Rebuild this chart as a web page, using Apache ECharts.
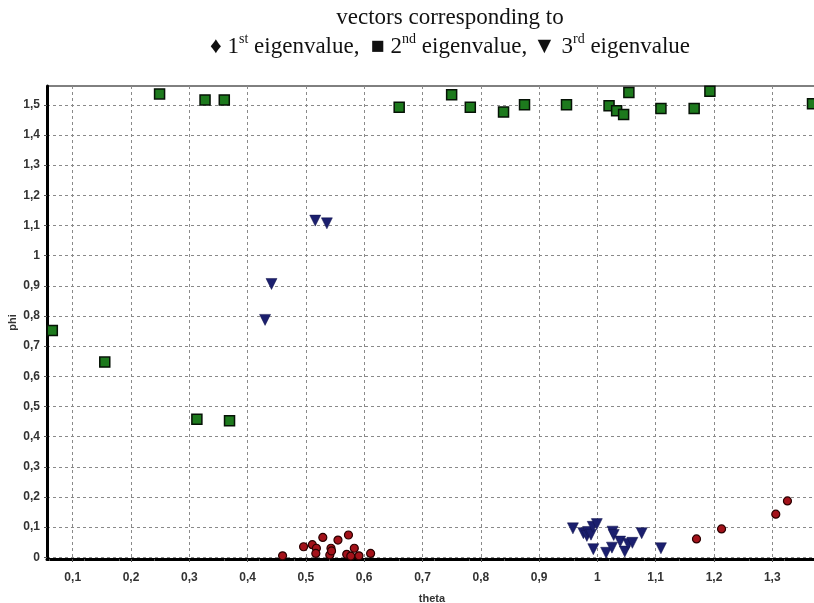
<html lang="en">
<head>
<meta charset="UTF-8">
<script src="https://cdn.jsdelivr.net/npm/echarts@6/dist/echarts.min.js"></script>
<title>eigenvectors</title>
</head>
<body style="margin:0">
<div id="main" style="width:814px;height:603px;"></div>
<script>
// tick positions
var xTicks = [0.1, 0.2, 0.3, 0.4, 0.5, 0.6, 0.7, 0.8, 0.9, 1.0, 1.1, 1.2, 1.3];
var yTicks = [0, 0.1, 0.2, 0.3, 0.4, 0.5, 0.6, 0.7, 0.8, 0.9, 1.0, 1.1, 1.2, 1.3, 1.4, 1.5];

// 1st eigenvalue (theta, phi)
var first = [
  [0.460, 0.005], [0.496, 0.035], [0.511, 0.042], [0.518, 0.030], [0.517, 0.013],
  [0.529, 0.066], [0.543, 0.030], [0.541, 0.008], [0.544, 0.021], [0.555, 0.057],
  [0.573, 0.074], [0.570, 0.010], [0.577, 0.004], [0.583, 0.030], [0.591, 0.005],
  [0.611, 0.013], [1.170, 0.061], [1.213, 0.094], [1.306, 0.143], [1.326, 0.187]
];
// 2nd eigenvalue
var second = [
  [0.065, 0.752], [0.155, 0.647], [0.249, 1.536], [0.313, 0.458], [0.327, 1.516],
  [0.360, 1.516], [0.369, 0.453], [0.660, 1.492], [0.750, 1.533], [0.782, 1.492],
  [0.839, 1.476], [0.875, 1.500], [0.947, 1.500], [1.020, 1.497], [1.033, 1.480],
  [1.045, 1.468], [1.054, 1.541], [1.109, 1.488], [1.166, 1.488], [1.193, 1.545],
  [1.369, 1.503]
];
// 3rd eigenvalue
var third = [
  [0.430, 0.787], [0.441, 0.906], [0.516, 1.116], [0.536, 1.107],
  [0.958, 0.096], [0.976, 0.080], [0.982, 0.071], [0.984, 0.084], [0.989, 0.075],
  [0.992, 0.101], [0.999, 0.110], [0.993, 0.027], [1.015, 0.015], [1.025, 0.032],
  [1.026, 0.085], [1.028, 0.074], [1.039, 0.052], [1.047, 0.019], [1.053, 0.044],
  [1.060, 0.048], [1.076, 0.080], [1.109, 0.030]
];

function fmt(v) {
  var s = (Math.round(v * 10) / 10).toString();
  return s.replace('.', ',');
}

var chart = echarts.init(document.getElementById('main'));

var dashed = { show: true, lineStyle: { color: '#8a8a8a', type: [3, 3], width: 1 } };
var labelFont = { fontFamily: 'Liberation Sans', fontSize: 12, fontWeight: 'bold', color: '#333' };
var nameFont = { fontFamily: 'Liberation Sans', fontSize: 11, fontWeight: 'bold', color: '#333' };

chart.setOption({
  animation: false,
  backgroundColor: '#fff',
  graphic: [
    {
      type: 'text', x: 450, y: 18,
      style: {
        text: 'vectors corresponding to', align: 'center', verticalAlign: 'middle',
        font: '23px "Liberation Serif"', fill: '#111'
      }
    },
    {
      type: 'text', x: 450, y: 45,
      style: {
        text: '{n|\u2666 1}{s|st}{n| eigenvalue,  \u25A0 2}{s|nd}{n| eigenvalue, \u25BC 3}{s|rd}{n| eigenvalue}',
        align: 'center', verticalAlign: 'middle',
        rich: {
          n: { fontFamily: 'Liberation Serif', fontSize: 23, fill: '#111', lineHeight: 26, verticalAlign: 'bottom' },
          s: { fontFamily: 'Liberation Serif', fontSize: 14, fill: '#111', lineHeight: 26, verticalAlign: 'top' }
        }
      }
    }
  ],
  grid: {
    left: 47, top: 86, width: 770, height: 473,
    outerBoundsMode: 'none', containLabel: false,
    show: true, borderColor: '#000', borderWidth: 1, backgroundColor: 'transparent'
  },
  xAxis: {
    type: 'value', min: 0.0559, max: 1.3767,
    name: 'theta', nameLocation: 'middle', nameGap: 34, nameMoveOverlap: false,
    nameTextStyle: nameFont,
    axisLine: { show: true, onZero: false, lineStyle: { color: '#000', width: 3 } },
    axisTick: { show: true, customValues: xTicks, length: 3, inside: false, lineStyle: { color: '#555' } },
    minorTick: { show: true, splitNumber: 5, length: 2, lineStyle: { color: '#555' } },
    axisLabel: Object.assign({ customValues: xTicks, margin: 13, formatter: fmt }, labelFont),
    splitLine: dashed
  },
  yAxis: {
    type: 'value', min: -0.0056, max: 1.5622,
    name: 'phi', nameLocation: 'middle', nameGap: 29, nameRotate: 90, nameMoveOverlap: false,
    nameTextStyle: nameFont,
    axisLine: { show: true, onZero: false, lineStyle: { color: '#000', width: 3 } },
    axisTick: { show: true, customValues: yTicks, length: 3, lineStyle: { color: '#555' } },
    axisLabel: Object.assign({ customValues: yTicks, margin: 7, formatter: fmt }, labelFont),
    splitLine: dashed
  },
  series: [
    {
      name: '1st eigenvalue', type: 'scatter', data: first,
      symbol: 'circle', symbolSize: 8,
      itemStyle: { color: '#a3121a', borderColor: '#2a0000', borderWidth: 1.2, opacity: 1 }
    },
    {
      name: '2nd eigenvalue', type: 'scatter', data: second,
      symbol: 'rect', symbolSize: 10,
      itemStyle: { color: '#1d7a1d', borderColor: '#061206', borderWidth: 1.5, opacity: 1 }
    },
    {
      name: '3rd eigenvalue', type: 'scatter', data: third,
      symbol: 'triangle', symbolSize: 11, symbolRotate: 180,
      itemStyle: { color: '#1b1f6e', borderColor: '#10124a', borderWidth: 0.5, opacity: 1 }
    }
  ]
});
</script>
</body>
</html>
